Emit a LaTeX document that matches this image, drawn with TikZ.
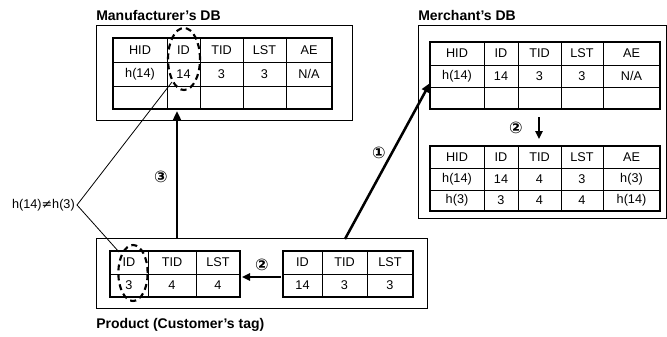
\documentclass[tikz,border=0pt]{standalone}
\usepackage{fontspec}
\setmainfont{Liberation Sans}
\newfontfamily\dejavu{DejaVu Sans}
\usetikzlibrary{arrows.meta,fit}
\tikzset{
  outerbox/.style={draw, line width=0.7pt, inner sep=0pt},
  tblframe/.style={draw, line width=1.9pt, inner sep=0pt},
  cellline/.style={line width=0.6pt},
  celltxt/.style={font=\fontsize{9.5}{10}\selectfont, inner sep=0pt},
  title/.style={font=\bfseries\fontsize{10.5}{12}\selectfont, anchor=west, inner sep=0pt},
  numlbl/.style={font=\dejavu\bfseries\fontsize{12}{14}\selectfont, inner sep=0pt},
  bigarrow/.style={line width=1.9pt, -{Triangle[length=7pt,width=6pt]}},
  thinline/.style={line width=0.6pt},
  dashell/.style={line width=1.6pt, dash pattern=on 4.5pt off 3pt},
}
\begin{document}
\begin{tikzpicture}[x=0.75pt,y=-0.75pt]
\useasboundingbox (0,0) rectangle (667,336);

% ---------- Manufacturer's DB ----------
\node[title] (mtitle) at (96,15) {Manufacturer’s DB};
\node[outerbox, fit={(96,25)(352,120)}] (mbox) {};
\foreach \c in {167,200,243,286} \draw[cellline] (\c,38) -- (\c,109);
\foreach \r in {62,86} \draw[cellline] (113,\r) -- (332,\r);
\node[tblframe, fit={(113,38)(332,109)}] (mtab) {};
\foreach \x/\t [count=\i] in {140/HID,183.5/ID,221.5/TID,264.5/LST,309/AE}
  \node[celltxt] (mh\i) at (\x,50) {\t};
\foreach \x/\t [count=\i] in {140/h(14),183.5/14,221.5/3,264.5/3,309/{N/A}}
  \node[celltxt] (mr\i) at (\x,74) {\t};
\draw[dashell] (184,59) ellipse [x radius=12pt, y radius=23.25pt];

% ---------- Merchant's DB ----------
\node[title] (rtitle) at (418,15) {Merchant’s DB};
\node[outerbox, fit={(418,25)(666,218)}] (rbox) {};
% top table
\foreach \c in {484,518,561,603} \draw[cellline] (\c,42) -- (\c,109);
\foreach \r in {65,87} \draw[cellline] (430,\r) -- (660,\r);
\node[tblframe, fit={(430,42)(660,109)}] (rtab1) {};
\foreach \x/\t [count=\i] in {457/HID,501/ID,539.5/TID,582/LST,631.5/AE}
  \node[celltxt] (ah\i) at (\x,53.5) {\t};
\foreach \x/\t [count=\i] in {457/h(14),501/14,539.5/3,582/3,631.5/{N/A}}
  \node[celltxt] (ar\i) at (\x,76) {\t};
% bottom table
\foreach \c in {484,518,561,603} \draw[cellline] (\c,146) -- (\c,211);
\foreach \r in {168,190} \draw[cellline] (430,\r) -- (660,\r);
\node[tblframe, fit={(430,146)(660,211)}] (rtab2) {};
\foreach \x/\t [count=\i] in {457/HID,501/ID,539.5/TID,582/LST,631.5/AE}
  \node[celltxt] (bh\i) at (\x,157) {\t};
\foreach \x/\t [count=\i] in {457/h(14),501/14,539.5/4,582/3,631.5/h(3)}
  \node[celltxt] (br\i) at (\x,179) {\t};
\foreach \x/\t [count=\i] in {457/h(3),501/3,539.5/4,582/4,631.5/h(14)}
  \node[celltxt] (bs\i) at (\x,200.5) {\t};
% step 2 in merchant
\coordinate (r2s) at (539,117);
\coordinate (r2e) at (539,139);
\draw[line width=1.6pt, -{Triangle[length=6pt,width=5.5pt]}] (r2s) -- (r2e);
\node[numlbl] (r2lbl) at (516,128) {②};

% ---------- Product ----------
\node[title] (ptitle) at (96,325) {Product (Customer’s tag)};
\node[outerbox, fit={(96,238)(427,308)}] (pbox) {};
% left table
\foreach \c in {148,196} \draw[cellline] (\c,251) -- (\c,297);
\draw[cellline] (110,274) -- (240,274);
\node[tblframe, fit={(110,251)(240,297)}] (ptab1) {};
\foreach \x/\t [count=\i] in {129/ID,172/TID,218/LST}
  \node[celltxt] (ph\i) at (\x,262.5) {\t};
\foreach \x/\t [count=\i] in {129/3,172/4,218/4}
  \node[celltxt] (pr\i) at (\x,285.5) {\t};
\draw[dashell] (133,273) ellipse [x radius=11pt, y radius=21pt];
% right table
\foreach \c in {322,367} \draw[cellline] (\c,251) -- (\c,297);
\draw[cellline] (283,274) -- (413,274);
\node[tblframe, fit={(283,251)(413,297)}] (ptab2) {};
\foreach \x/\t [count=\i] in {302.5/ID,344.5/TID,390/LST}
  \node[celltxt] (qh\i) at (\x,262.5) {\t};
\foreach \x/\t [count=\i] in {302.5/14,344.5/3,390/3}
  \node[celltxt] (qr\i) at (\x,285.5) {\t};
% step 2 in product
\coordinate (p2s) at (281,277);
\coordinate (p2e) at (242,277);
\draw[line width=1.6pt, -{Triangle[length=6pt,width=5.5pt]}] (p2s) -- (p2e);
\node[numlbl] (p2lbl) at (262,265) {②};

% ---------- Step 1 ----------
\coordinate (a1s) at (345,239);
\coordinate (a1e) at (430,83);
\draw[bigarrow] (a1s) -- (a1e);
\node[numlbl] (a1lbl) at (379,153) {①};

% ---------- Step 3 ----------
\coordinate (a3s) at (177,238);
\coordinate (a3e) at (177,111);
\draw[bigarrow] (a3s) -- (a3e);
\node[numlbl] (a3lbl) at (161,177) {③};

% ---------- h(14) != h(3) ----------
\node[font=\fontsize{9.5}{10}\selectfont, inner sep=0pt, anchor=east] (neq) at (75,205) {h(14){\dejavu ≠}h(3)};
\coordinate (nv) at (77,205);
\coordinate (nt) at (172,82);
\coordinate (nb) at (119,252);
\draw[thinline] (nt) -- (nv) -- (nb);
\end{tikzpicture}
\end{document}
